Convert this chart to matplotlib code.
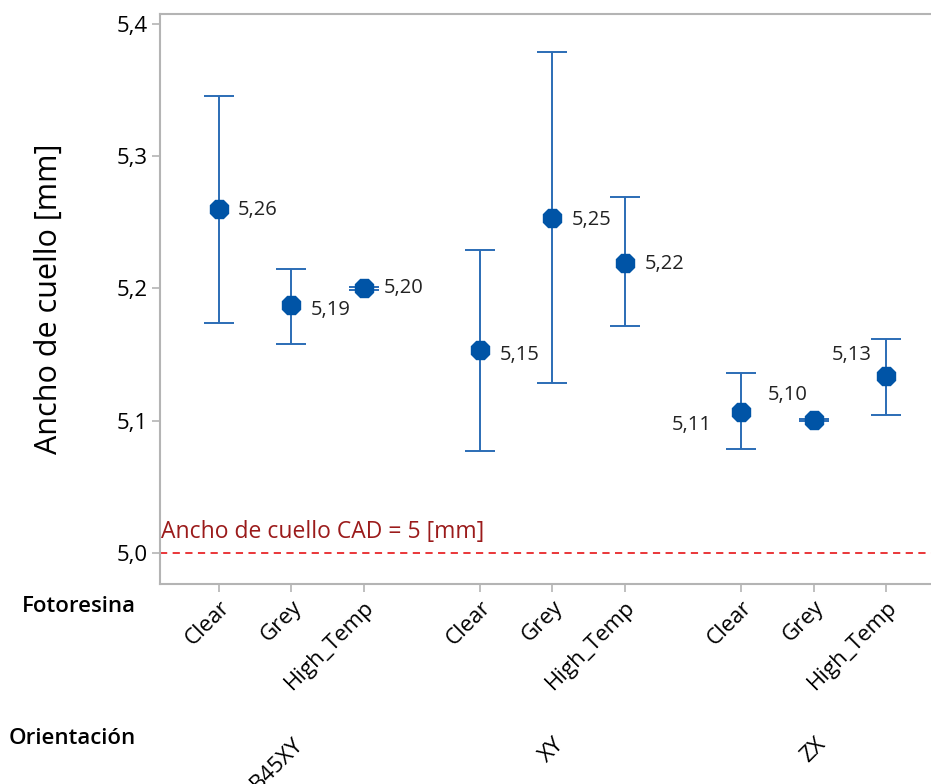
import matplotlib
matplotlib.use("Agg")
import matplotlib.pyplot as plt
import matplotlib.transforms as mtransforms

# datos (media e intervalo)
orientaciones = ["B45XY", "XY", "ZX"]
resinas = ["Clear", "Grey", "High_Temp"]
medias = [5.2604, 5.1872, 5.2000, 5.1532, 5.2536, 5.2196, 5.1064, 5.1004, 5.1336]
sup = [5.3457, 5.2151, 5.2012, 5.2294, 5.3789, 5.2694, 5.1358, 5.1012, 5.1615]
inf = [5.1736, 5.1577, 5.1988, 5.0770, 5.1283, 5.1713, 5.0785, 5.0996, 5.1042]
etiquetas = ["5,26", "5,19", "5,20", "5,15", "5,25", "5,22", "5,11", "5,10", "5,13"]
cad = 5.0

plt.rcParams['font.family'] = ['Open Sans', 'DejaVu Sans']

fig = plt.figure(figsize=(9.31, 7.84), dpi=100)
ax = fig.add_axes([160 / 931, 1 - 584 / 784, 1 - 160 / 931, (584 - 14) / 784])

# posiciones x: 3 grupos con hueco entre ellos
xs = []
for g in range(len(orientaciones)):
    for r in range(len(resinas)):
        xs.append(g * 3.6 + r)

azul = '#0054A6'
linea = '#2B6CB5'
for x, m, hi, lo in zip(xs, medias, sup, inf):
    ax.errorbar([x], [m], yerr=[[m - lo], [hi - m]], fmt='none', ecolor=linea,
                elinewidth=1.4, capsize=11, capthick=1.4, zorder=2)
    ax.plot([x], [m], marker='8', markersize=14.5, color=azul, zorder=3)

# posiciones de las etiquetas (desplazamiento en puntos)
offsets = [(14, -1, 'left'), (14, -3, 'left'), (14, 0, 'left'),
           (14, -3, 'left'), (14, -2, 'left'), (14, -1, 'left'),
           (-21, -9, 'right'), (-4, 18, 'right'), (-10, 15, 'right')]
for x, m, txt, (dx, dy, ha) in zip(xs, medias, etiquetas, offsets):
    ax.annotate(txt, (x, m), xytext=(dx, dy), textcoords='offset points',
                ha=ha, va='center', fontsize=14.5, color='#222222')

ax.axhline(cad, color='#E8262A', linestyle=(0, (4, 3)), linewidth=1.3, zorder=1)
ax.text(-0.79, cad + 0.007, "Ancho de cuello CAD = 5 [mm]", color='#9B1B1B',
        fontsize=16.5, ha='left', va='bottom')

ax.set_xlim(-0.81, 9.82)
ax.set_ylim(4.9766, 5.4075)
ax.set_yticks([5.0, 5.1, 5.2, 5.3, 5.4])
ax.set_yticklabels(["5,0", "5,1", "5,2", "5,3", "5,4"], fontsize=16)
ax.set_xticks(xs)
ax.set_xticklabels(resinas * 3, rotation=45, ha='right', rotation_mode='anchor',
                   fontsize=16)
ax.set_ylabel("Ancho de cuello [mm]", fontsize=22, labelpad=38)

for s in ['left', 'bottom', 'top']:
    ax.spines[s].set_color('#B4B4B4')
    ax.spines[s].set_linewidth(1.5)
ax.spines['right'].set_visible(False)
ax.tick_params(axis='both', color='#B4B4B4', length=6, width=1.2)
ax.tick_params(axis='y', pad=3)
ax.tick_params(axis='x', pad=3)

# etiquetas de grupo
trans = mtransforms.blended_transform_factory(ax.transData, fig.transFigure)
for g, nombre in enumerate(orientaciones):
    ax.text(g * 3.6 + 1.12, 1 - 741 / 784, nombre, transform=trans, rotation=45,
            rotation_mode='anchor', ha='right', va='center', fontsize=16)

fig.text(136 / 931, 1 - 606 / 784, "Fotoresina", ha='right', va='center',
         fontsize=16, fontweight='semibold')
fig.text(136 / 931, 1 - 738 / 784, "Orientación", ha='right', va='center',
         fontsize=16, fontweight='semibold')

fig.savefig("out.png", dpi=100)
